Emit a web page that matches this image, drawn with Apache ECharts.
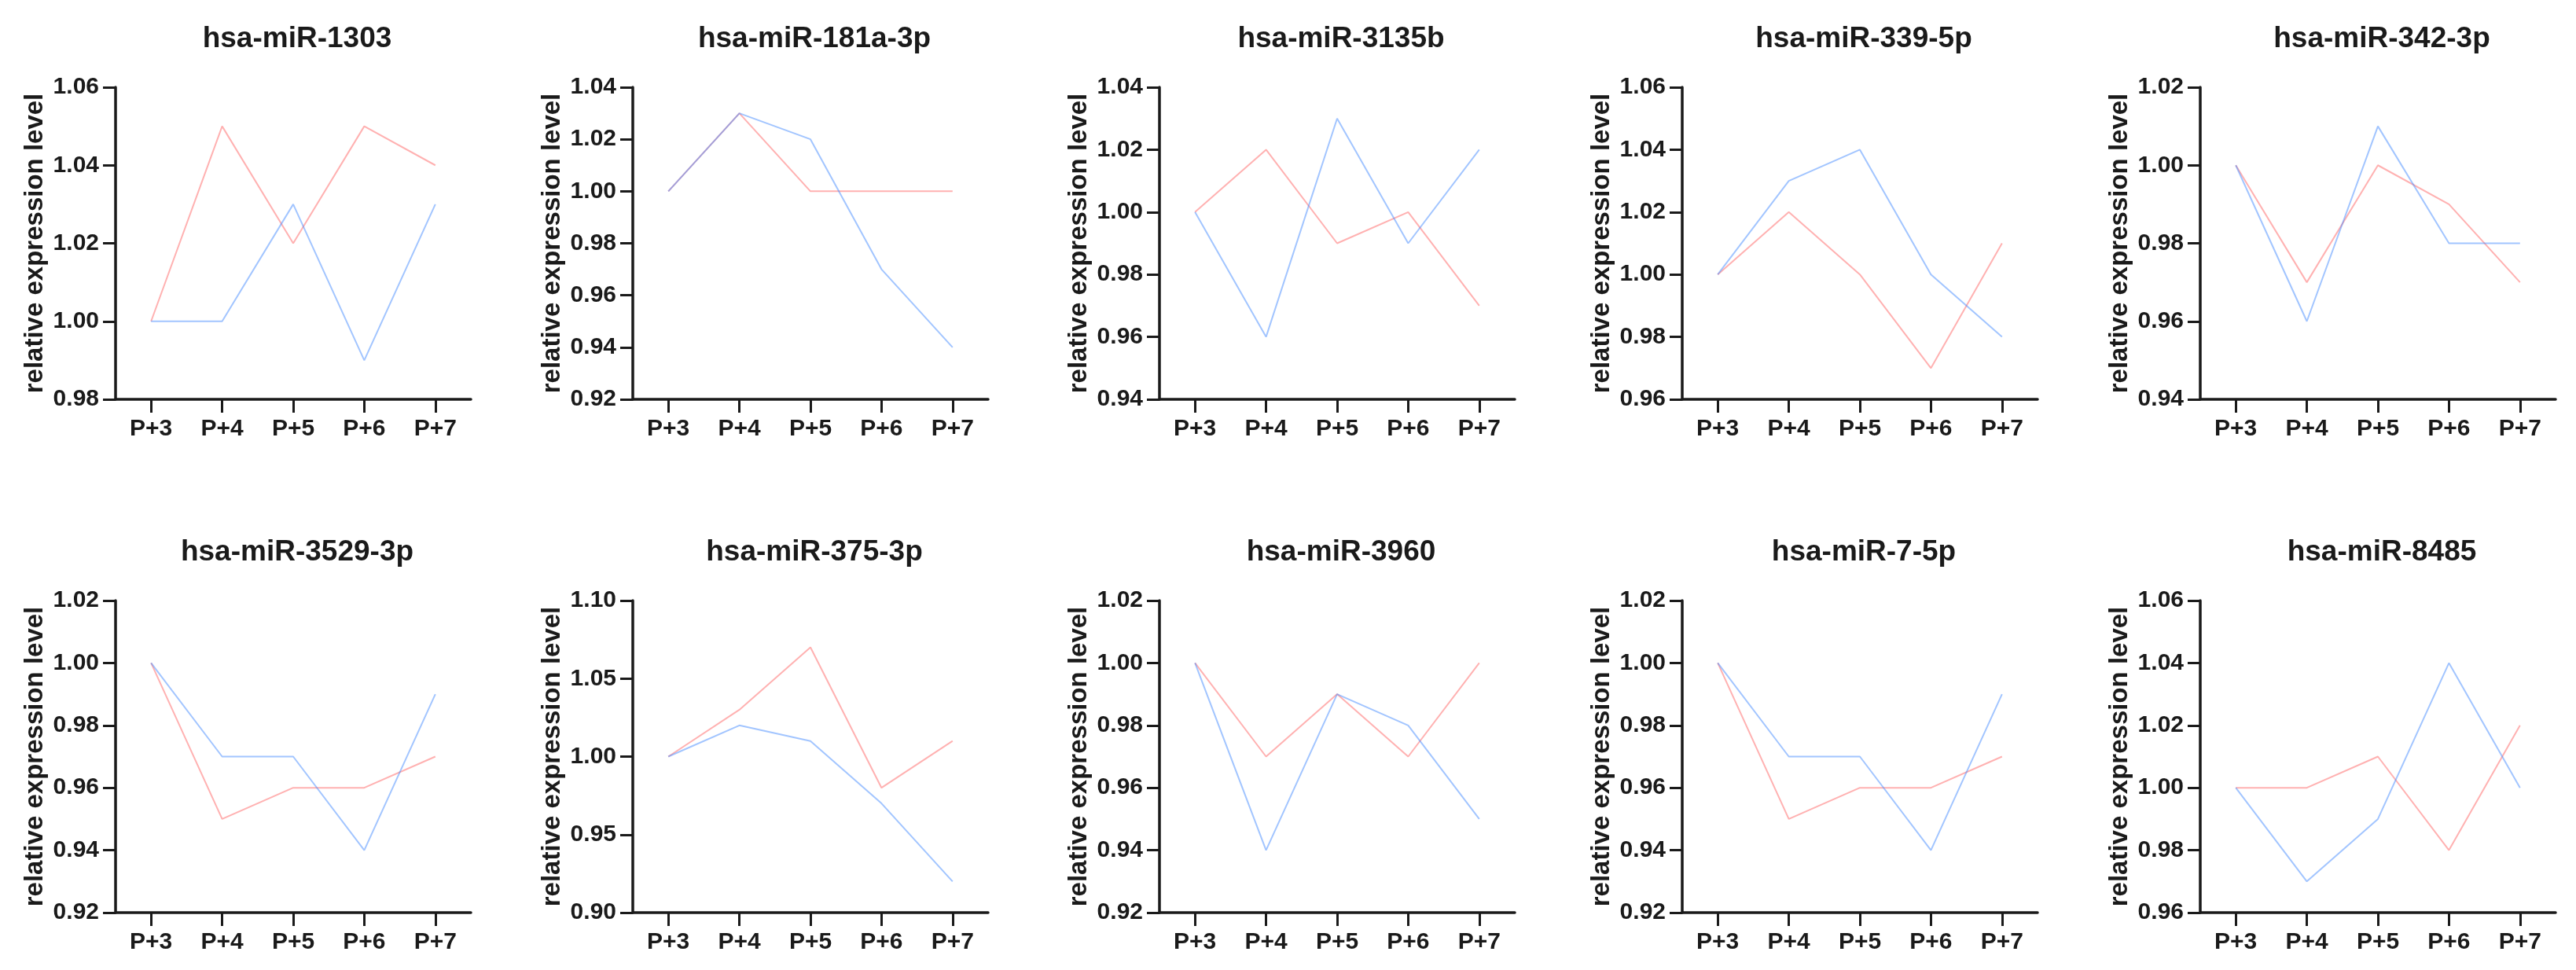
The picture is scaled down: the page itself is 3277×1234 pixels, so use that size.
<!DOCTYPE html>
<html>
<head>
<meta charset="utf-8">
<script src="https://cdn.jsdelivr.net/npm/echarts@6/dist/echarts.min.js"></script>
<style>
html,body{margin:0;padding:0;background:#fff;}
#chart{width:3277px;height:1234px;}
</style>
</head>
<body>
<div id="chart"></div>
<script>
// ---- data ----
const categories = ['P+3', 'P+4', 'P+5', 'P+6', 'P+7'];
const panelTitles = ['hsa-miR-1303', 'hsa-miR-181a-3p', 'hsa-miR-3135b', 'hsa-miR-339-5p', 'hsa-miR-342-3p',
                     'hsa-miR-3529-3p', 'hsa-miR-375-3p', 'hsa-miR-3960', 'hsa-miR-7-5p', 'hsa-miR-8485'];
const yMins      = [0.98, 0.92, 0.94, 0.96, 0.94, 0.92, 0.90, 0.92, 0.92, 0.96];
const yMaxs      = [1.06, 1.04, 1.04, 1.06, 1.02, 1.02, 1.10, 1.02, 1.02, 1.06];
const yIntervals = [0.02, 0.02, 0.02, 0.02, 0.02, 0.02, 0.05, 0.02, 0.02, 0.02];

const pink1303  = [1.00, 1.05, 1.02, 1.05, 1.04];
const blue1303  = [1.00, 1.00, 1.03, 0.99, 1.03];
const pink181a  = [1.00, 1.03, 1.00, 1.00, 1.00];
const blue181a  = [1.00, 1.03, 1.02, 0.97, 0.94];
const pink3135b = [1.00, 1.02, 0.99, 1.00, 0.97];
const blue3135b = [1.00, 0.96, 1.03, 0.99, 1.02];
const pink339   = [1.00, 1.02, 1.00, 0.97, 1.01];
const blue339   = [1.00, 1.03, 1.04, 1.00, 0.98];
const pink342   = [1.00, 0.97, 1.00, 0.99, 0.97];
const blue342   = [1.00, 0.96, 1.01, 0.98, 0.98];
const pink3529  = [1.00, 0.95, 0.96, 0.96, 0.97];
const blue3529  = [1.00, 0.97, 0.97, 0.94, 0.99];
const pink375   = [1.00, 1.03, 1.07, 0.98, 1.01];
const blue375   = [1.00, 1.02, 1.01, 0.97, 0.92];
const pink3960  = [1.00, 0.97, 0.99, 0.97, 1.00];
const blue3960  = [1.00, 0.94, 0.99, 0.98, 0.95];
const pink75p   = [1.00, 0.95, 0.96, 0.96, 0.97];
const blue75p   = [1.00, 0.97, 0.97, 0.94, 0.99];
const pink8485  = [1.00, 1.00, 1.01, 0.98, 1.02];
const blue8485  = [1.00, 0.97, 0.99, 1.04, 1.00];

const pinkData = [pink1303, pink181a, pink3135b, pink339, pink342, pink3529, pink375, pink3960, pink75p, pink8485];
const blueData = [blue1303, blue181a, blue3135b, blue339, blue342, blue3529, blue375, blue3960, blue75p, blue8485];

// ---- layout / style ----
const FONT = 'Arial, "Liberation Sans", sans-serif';
const INK = '#1a1a1a';
const colLefts = [147, 805, 1475, 2140, 2799];
const rowTops = [111, 764];
const rowHeights = [397, 397];
const gridW = 452;

const option = {
  backgroundColor: '#ffffff',
  animation: false,
  title: [], grid: [], xAxis: [], yAxis: [], series: []
};

for (let i = 0; i < 10; i++) {
  const r = Math.floor(i / 5), c = i % 5;
  const left = colLefts[c], top = rowTops[r];
  option.grid.push({ left: left, top: top, width: gridW, height: rowHeights[r], containLabel: false, outerBoundsMode: 'none' });
  option.title.push({
    text: panelTitles[i],
    left: left + gridW / 2,
    top: top - 85,
    textAlign: 'center',
    textStyle: { fontFamily: FONT, fontSize: 37, fontWeight: 'bold', color: INK }
  });
  option.xAxis.push({
    type: 'category', gridIndex: i, data: categories, boundaryGap: true,
    axisLine: { show: true, onZero: false, lineStyle: { color: INK, width: 3.5 } },
    axisTick: { show: true, alignWithLabel: true, length: 17, lineStyle: { color: INK, width: 3 } },
    axisLabel: { margin: 23, fontFamily: FONT, fontSize: 30, fontWeight: 'bold', color: INK },
    splitLine: { show: false }
  });
  option.yAxis.push({
    type: 'value', gridIndex: i, min: yMins[i], max: yMaxs[i], interval: yIntervals[i],
    name: 'relative expression level', nameLocation: 'middle', nameGap: 86, nameRotate: 90,
    nameMoveOverlap: false,
    nameTextStyle: { fontFamily: FONT, fontSize: 33, fontWeight: 'bold', color: INK },
    axisLine: { show: true, lineStyle: { color: INK, width: 3.5 } },
    axisTick: { show: true, length: 16, lineStyle: { color: INK, width: 3 } },
    axisLabel: { margin: 21, fontFamily: FONT, fontSize: 30, fontWeight: 'bold', color: INK,
                 formatter: v => v.toFixed(2) },
    splitLine: { show: false }
  });
  option.series.push({
    type: 'line', xAxisIndex: i, yAxisIndex: i, data: pinkData[i],
    symbol: 'none', smooth: false,
    lineStyle: { color: 'rgba(255,100,100,0.5)', width: 2 }, itemStyle: { color: 'rgba(255,100,100,0.5)' }
  });
  option.series.push({
    type: 'line', xAxisIndex: i, yAxisIndex: i, data: blueData[i],
    symbol: 'none', smooth: false,
    lineStyle: { color: 'rgba(70,140,255,0.5)', width: 2 }, itemStyle: { color: 'rgba(70,140,255,0.5)' }
  });
}

const chart = echarts.init(document.getElementById('chart'), null, { renderer: 'canvas' });
chart.setOption(option);
</script>
</body>
</html>
